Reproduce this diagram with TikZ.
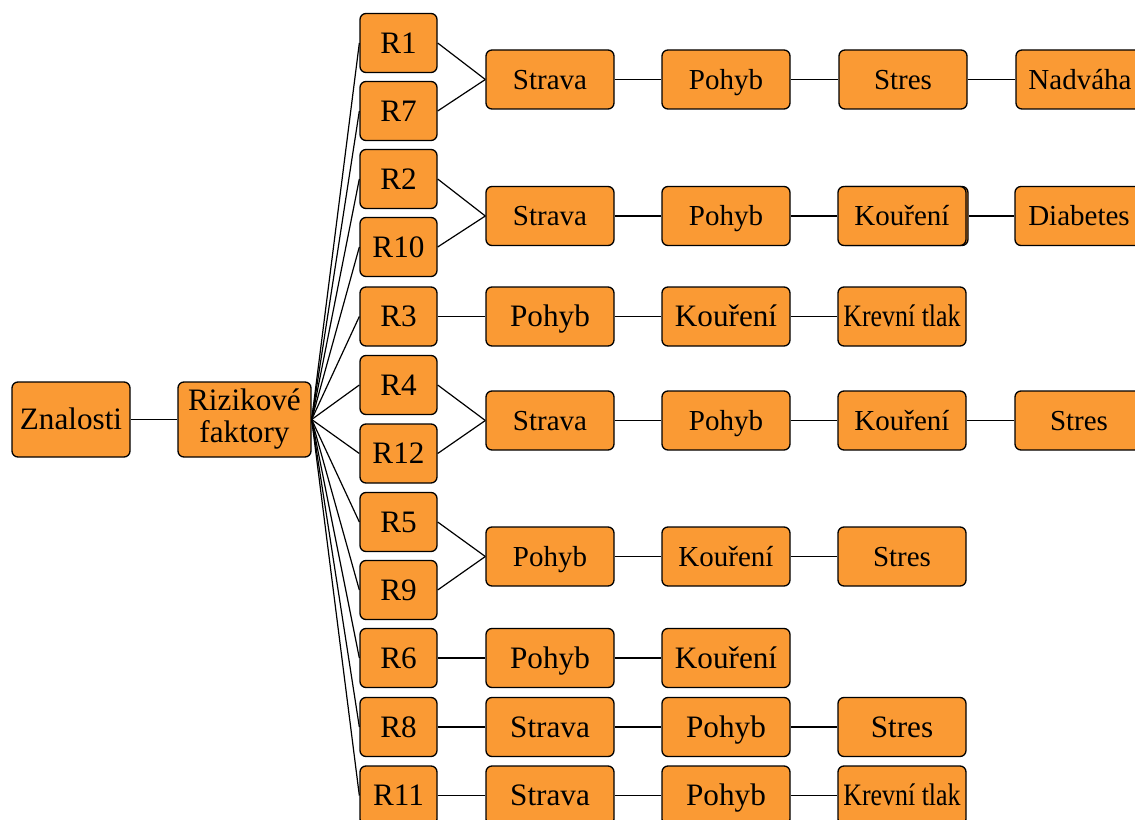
\documentclass[tikz,border=0pt]{standalone}
\usepackage{fontspec}
\setmainfont{Liberation Serif}
\usepackage{graphicx}
\definecolor{boxorange}{RGB}{250,154,52}
\newcommand\fsmall{\fontsize{21.75pt}{24pt}\selectfont}
\newcommand\flarge{\fontsize{23.4pt}{24pt}\selectfont}
\tikzset{
  boxbase/.style={draw=black, line width=1pt, fill=boxorange, rounded corners=4.5pt,
    minimum height=44.25pt, inner sep=0pt, align=center, font=\fsmall},
  box/.style={boxbase, text height=14.6pt, text depth=0pt},
  big/.style={font=\flarge, text height=15.4pt},
  rbox/.style={box, big, minimum width=57.75pt},
  cbox/.style={box, minimum width=96pt},
  link/.style={draw=black, line width=0.9pt},
}
\begin{document}
\begin{tikzpicture}[x=0.75pt, y=-0.75pt]
\useasboundingbox (0,0) rectangle (1135,820);
\clip (0,0) rectangle (1135,820);

% root and category
\node[box, big, minimum width=88.5pt, minimum height=56.25pt] (zn) at (71,419.5) {Znalosti};
\node[boxbase, big, text height=, minimum width=99.75pt, minimum height=56.25pt] (rf) at (244.5,419.5) {Rizikové\\faktory};

% risk profiles
\foreach \n/\y in {1/43, 7/111, 2/179, 10/247, 3/316.5, 4/385, 12/453.5, 5/522, 9/590, 6/658, 8/727, 11/795.5}
  \node[rbox] (r\n) at (398.5,\y) {R\n};

% chain A (R1, R7)
\node[cbox] (a1) at (550,79.5) {Strava};
\node[cbox] (a2) at (726,79.5) {Pohyb};
\node[cbox] (a3) at (903,79.5) {Stres};
\node[cbox] (a4) at (1080,79.5) {Nadváha};

% chain B (R2, R10)
\node[cbox] (b1) at (550,216) {Strava};
\node[cbox] (b2) at (726,216) {Pohyb};
\node[cbox] (b3x) at (904,216) {};
\node[cbox] (b3) at (902,216) {Kouření};
\node[cbox] (b4) at (1079,216) {Diabetes};

% chain C (R3)
\node[cbox, big] (c1) at (550,316.5) {Pohyb};
\node[cbox, big] (c2) at (726,316.5) {Kouření};
\node[cbox, big] (c3) at (902,316.5) {\scalebox{0.83}[1]{Krevní tlak}};

% chain D (R4, R12)
\node[cbox] (d1) at (550,420.5) {Strava};
\node[cbox] (d2) at (726,420.5) {Pohyb};
\node[cbox] (d3) at (902,420.5) {Kouření};
\node[cbox] (d4) at (1079,420.5) {Stres};

% chain E (R5, R9)
\node[cbox] (e1) at (550,556.5) {Pohyb};
\node[cbox] (e2) at (726,556.5) {Kouření};
\node[cbox] (e3) at (902,556.5) {Stres};

% chain F (R6)
\node[cbox, big] (f1) at (550,658) {Pohyb};
\node[cbox, big] (f2) at (726,658) {Kouření};

% chain G (R8)
\node[cbox, big] (g1) at (550,727) {Strava};
\node[cbox, big] (g2) at (726,727) {Pohyb};
\node[cbox, big] (g3) at (902,727) {Stres};

% chain H (R11)
\node[cbox, big] (h1) at (550,795.5) {Strava};
\node[cbox, big] (h2) at (726,795.5) {Pohyb};
\node[cbox, big] (h3) at (902,795.5) {\scalebox{0.83}[1]{Krevní tlak}};

% connectors
\draw[link] (zn.east) -- (rf.west);
\foreach \n in {1,7,2,10,3,4,12,5,9,6,8,11}
  \draw[link] (rf.east) -- (r\n.west);

\draw[link] (r1.east) -- (a1.west);
\draw[link] (r7.east) -- (a1.west);
\draw[link] (a1) -- (a2) (a2) -- (a3) (a3) -- (a4);

\draw[link] (r2.east) -- (b1.west);
\draw[link] (r10.east) -- (b1.west);
\draw[link] (b1) -- (b2) (b2) -- (b3) (b3x) -- (b4);

\draw[link] (r3) -- (c1) (c1) -- (c2) (c2) -- (c3);

\draw[link] (r4.east) -- (d1.west);
\draw[link] (r12.east) -- (d1.west);
\draw[link] (d1) -- (d2) (d2) -- (d3) (d3) -- (d4);

\draw[link] (r5.east) -- (e1.west);
\draw[link] (r9.east) -- (e1.west);
\draw[link] (e1) -- (e2) (e2) -- (e3);

\draw[link] (r6) -- (f1) (f1) -- (f2);
\draw[link] (r8) -- (g1) (g1) -- (g2) (g2) -- (g3);
\draw[link] (r11) -- (h1) (h1) -- (h2) (h2) -- (h3);
\end{tikzpicture}
\end{document}
